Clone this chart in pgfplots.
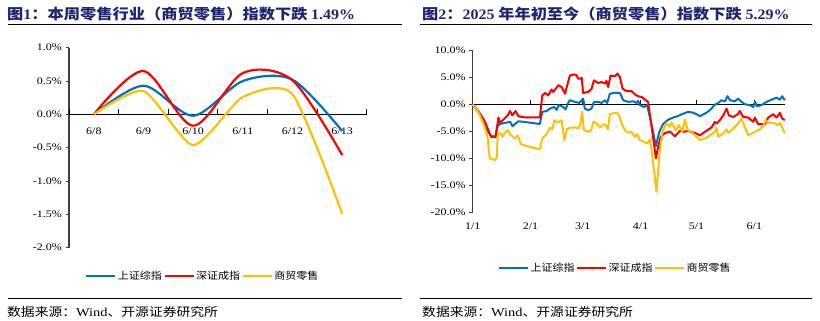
\documentclass[border=0pt]{standalone}
\usepackage{fontspec}
\usepackage{pgfplots}
\pgfplotsset{compat=1.18}
\setmainfont{Liberation Serif}[FakeStretch=1.2]
\newfontfamily\cjk{Noto Sans CJK SC}[FakeStretch=1.1]
\newfontfamily\cjks{Noto Sans CJK SC}[FakeStretch=1.15]
\newfontfamily\cjkt{Noto Sans CJK SC}[FakeStretch=1.12]
\newfontfamily\numt{Liberation Serif}[FakeStretch=1.1]
\definecolor{sh}{RGB}{0,112,192}
\definecolor{sz}{RGB}{255,0,0}
\definecolor{sm}{RGB}{255,192,0}
\definecolor{ttl}{RGB}{28,36,115}
\definecolor{axgray}{RGB}{64,64,64}
\pgfplotsset{
  myaxis/.style={
    scale only axis,
    axis y line*=left, y axis line style={-, draw=axgray, line width=1.2pt},
    axis x line*=bottom, x axis line style={draw=none},
    xtick style={draw=none},
    ytick style={draw=axgray, line width=1pt},
    tick align=outside, major tick length=3.5pt,
    yticklabel={\pgfmathprintnumber[fixed,fixed zerofill,precision=1]{\tick}\%},
    /pgf/number format/assume math mode=true,
    tick label style={font=\fontsize{10}{12}\selectfont},
    clip=false,
    legend columns=3,
    legend cell align=left,
    legend style={draw=none, fill=none, inner sep=0pt, column sep=0pt,
      font=\cjk\fontsize{10}{12}\selectfont, nodes={inner sep=1.5pt}},
    legend image code/.code={\draw[##1] (0pt,0pt) -- (29pt,0pt);},
  }
}
\begin{document}
\begin{tikzpicture}
\useasboundingbox (0,0) rectangle (820pt,321pt);
% titles
\node[anchor=base west, inner sep=0pt, text=ttl, font=\cjkt\bfseries\fontsize{14.5}{17}\selectfont] at (7pt,301.5pt) {图{\numt\bfseries 1}：本周零售行业（商贸零售）指数下跌 {\numt\bfseries 1.49\%}};
\node[anchor=base west, inner sep=0pt, text=ttl, font=\cjkt\bfseries\fontsize{14.5}{17}\selectfont] at (422pt,301.5pt) {图{\numt\bfseries 2}：{\numt\bfseries 2025} 年年初至今（商贸零售）指数下跌 {\numt\bfseries 5.29\%}};
\draw[black, line width=1pt] (8pt,296pt) -- (402pt,296pt);
\draw[black, line width=1pt] (420pt,296pt) -- (812pt,296pt);
\draw[black, line width=1pt] (8pt,22pt) -- (402pt,22pt);
\draw[black, line width=1pt] (420pt,22pt) -- (812pt,22pt);
\node[anchor=base west, inner sep=0pt, font=\cjks\fontsize{12}{14}\selectfont] at (7pt,4.5pt) {数据来源：{\rmfamily Wind}、开源证券研究所};
\node[anchor=base west, inner sep=0pt, font=\cjks\fontsize{12}{14}\selectfont] at (422pt,4.5pt) {数据来源：{\rmfamily Wind}、开源证券研究所};

% left chart
\begin{axis}[myaxis,
  at={(69pt,73.3pt)}, anchor=south west,
  width=298pt, height=200pt,
  xmin=-0.5, xmax=5.5, ymin=-2, ymax=1,
  xtick={0,1,2,3,4,5}, xticklabels={6/8,6/9,6/10,6/11,6/12,6/13},
  xticklabel style={yshift=126.5pt},
  ytick={-2,-1.5,-1,-0.5,0,0.5,1},
  legend style={at={(0.448,-0.14)}, anchor=center},
]
\draw[black, line width=1pt] (axis cs:-0.5,0) -- (axis cs:5.5,0);
\pgfplotsinvokeforeach{-0.5,0.5,1.5,2.5,3.5,4.5,5.5}{
  \draw[black, line width=1pt] (axis cs:#1,0) -- ++(0pt,5pt);
}
\addplot[sh, line width=2.2pt, smooth, tension=0.5] coordinates {(0,0) (1,0.43) (2,-0.02) (3,0.50) (4,0.52) (5,-0.25)};
\addplot[sz, line width=2.2pt, smooth, tension=0.5] coordinates {(0,0) (1,0.65) (2,-0.17) (3,0.62) (4,0.51) (5,-0.61)};
\addplot[sm, line width=2.2pt, smooth, tension=0.4] coordinates {(0,0) (1,0.35) (2,-0.46) (3,0.26) (4,0.30) (5,-1.49)};
\legend{上证综指,深证成指,商贸零售}
\end{axis}

% right chart
\begin{axis}[myaxis,
  at={(472.7pt,108.7pt)}, anchor=south west,
  width=312.3pt, height=161.6pt,
  xmin=0, xmax=167.4, ymin=-20, ymax=10,
  xtick={0,31,59,90,120,151}, xticklabels={1/1,2/1,3/1,4/1,5/1,6/1},
  xticklabel style={yshift=-3.6pt},
  ytick={-20,-15,-10,-5,0,5,10},
  legend style={at={(0.456,-0.345)}, anchor=center},
]
\draw[black, line width=1pt] (axis cs:0,0) -- (axis cs:167.4,0);
\pgfplotsinvokeforeach{31,59,90,120,151}{
  \draw[black, line width=1pt] (axis cs:#1,0) -- ++(0pt,5pt);
}
\addplot[sh, line width=2pt, line join=round] table[x=d,y=v] {
d v
0 0
3 -1.4
5.7 -2.9
8.4 -5.1
9.8 -5.8
12 -6.0
13.4 -4.0
14.6 -3.6
17.3 -3.4
20 -3.2
21.4 -4.0
22.7 -3.6
24.5 -3.1
27 -3.2
36 -3.6
37.3 -1.35
39.6 -1.2
41.4 -0.75
43.7 -0.45
45 -1.0
46 -0.1
48.6 -0.45
49.8 -0.9
51 0.2
52.1 0.8
54.8 0.5
57.1 0.3
58.4 0.8
59.2 1.1
60.1 -0.75
61.9 -1.05
63.7 -0.75
65 0.5
67.3 0.5
69 0.3
70.9 0.8
72.1 0.3
73.5 2.0
76.2 2.2
78.9 2.15
80.7 0.8
83.4 0.5
86 0.6
87.8 0.3
88.7 0.7
89.6 -0.1
91.7 -0.45
93.5 -0.1
95.9 -3.8
98.2 -7.7
100 -5.1
102.1 -3.6
104.8 -2.8
107.5 -2.4
110 -2.15
112 -1.8
115.5 -1.35
118.2 -1.5
121.8 -2.15
125.4 -1.5
128 -0.75
129.5 -0.1
131.6 0.3
133.4 0.8
135.2 0.6
136.6 1.55
137.9 0.8
140.5 0.6
142.3 1.1
144.1 0.5
145.9 0.05
148.6 -0.1
150.4 -0.45
151.3 0.5
152.2 -0.3
154.8 -0.1
157.5 0.5
160.2 0.9
162.9 1.3
164.6 0.9
165.9 1.55
167.3 0.8
};
\addplot[sz, line width=2pt, line join=round] table[x=d,y=v] {
d v
0 0
3 -1.2
6.6 -3.2
8.8 -5.1
9.8 -6.0
12.3 -6.0
13.75 -2.4
14.6 -3.4
16.4 -2.8
18.75 -2.0
20 -1.2
21.25 -2.0
23 -1.2
24.5 -2.15
28 -2.4
36 -2.4
37.3 1.7
39 2.15
40.5 1.7
42.3 2.8
43.2 2.35
44.5 2.95
45.9 3.6
47.7 3.25
49.5 2.0
50.9 3.9
52.1 5.4
54.5 5.6
55.5 5.5
56.5 4.8
57.5 4.8
58.4 5.0
59.2 2.15
61.9 2.35
63.7 2.95
65 4.5
67.3 4.0
69 4.2
70.9 3.9
71.7 4.4
72.6 3.25
73.9 5.4
76.2 5.25
77.6 5.75
78.9 5.1
80.3 2.95
82.5 2.5
85.1 2.5
86.9 1.9
88.7 1.55
90.5 1.4
92.8 0.8
94 0.5
95.9 -4.1
98.2 -10.0
99.4 -7.8
100.7 -6.0
103 -5.3
105.7 -5.0
108.4 -5.9
111 -4.9
112.9 -5.05
115.5 -4.9
119.1 -5.25
121.8 -5.7
124.5 -5.05
128 -4.25
129.8 -3.2
130.7 -3.5
132.5 -2.9
134.3 -2.0
135.2 -1.35
136.1 -0.75
137.3 -2.0
139.7 -2.3
142 -1.8
143.2 -1.2
145 -2.3
147.7 -2.4
150.4 -3.2
151.3 -2.4
153 -3.65
156.6 -3.65
158.4 -2.4
161.1 -1.8
162.9 -2.4
164.6 -1.55
165.9 -2.6
167.3 -2.9
};
\addplot[sm, line width=2pt, line join=round] table[x=d,y=v] {
d v
0 0
3 -1.35
5.7 -3.5
8 -6.0
8.75 -9.1
9.3 -10.0
12 -10.3
12.9 -9.8
13.4 -5.7
14.6 -5.25
15.9 -6.0
17.3 -5.25
18.75 -4.75
20.5 -5.7
22.7 -6.3
24.1 -5.7
25.9 -7.35
28.9 -7.7
36 -8.3
37.3 -6.3
39.6 -5.5
41.4 -4.25
42.7 -4.6
43.75 -2.9
45 -3.2
46.25 -3.2
47.7 -2.9
49.1 -6.6
50.4 -4.6
52.1 -4.3
54.8 -4.25
56.6 -4.45
57.8 -3.5
58.7 -1.35
59.6 -4.75
61.9 -5.05
63.7 -4.6
64.6 -3.2
66.4 -3.5
68.2 -4.25
70 -3.65
71.4 -3.8
72.5 -4.6
73.5 -1.8
76.2 -1.55
78 -1.65
79.8 -3.5
81.6 -4.75
83.4 -5.25
85.1 -5.05
86.9 -6.0
88.2 -5.5
89.6 -6.6
91.7 -6.9
93.5 -7.2
95 -6.5
95.9 -8.45
98.5 -16.2
100.3 -8.45
101.7 -5.05
103.9 -3.4
105.3 -4.1
106.6 -3.4
108.9 -4.75
110.5 -3.8
112.3 -5.05
113.8 -2.8
115.2 -4.75
117.3 -5.05
119.5 -5.85
121.8 -6.6
124.5 -6.3
127.2 -5.7
129.8 -5.05
130.7 -4.25
131.6 -6.0
134.3 -5.35
136.1 -4.6
137 -5.25
139.7 -4.45
142.3 -3.5
144.1 -2.6
145.9 -4.25
147.7 -5.7
151.3 -5.05
154 -4.6
155.7 -4.0
157 -2.9
159.3 -3.4
162 -3.5
163.8 -3.8
164.6 -3.4
165.9 -4.25
167.3 -5.3
};
\legend{上证综指,深证成指,商贸零售}
\end{axis}
\end{tikzpicture}
\end{document}
